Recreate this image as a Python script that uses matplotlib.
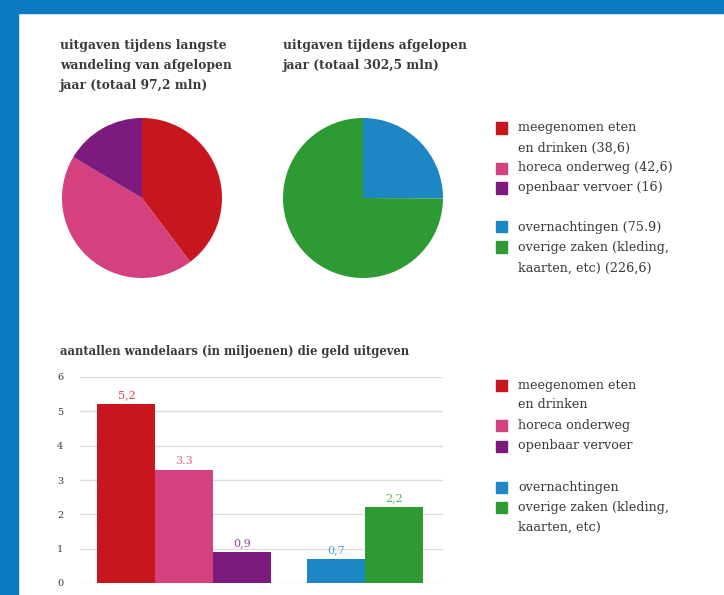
import matplotlib.pyplot as plt
from matplotlib.patches import Rectangle

W, H = 724, 595

# data
pie1_labels = ['meegenomen eten\nen drinken (38,6)', 'horeca onderweg (42,6)', 'openbaar vervoer (16)']
pie1_values = [38.6, 42.6, 16]
pie2_labels = ['overnachtingen (75.9)', 'overige zaken (kleding,\nkaarten, etc) (226,6)']
pie2_values = [75.9, 226.6]

bar_labels = ['meegenomen eten\nen drinken', 'horeca onderweg', 'openbaar vervoer',
              'overnachtingen', 'overige zaken (kleding,\nkaarten, etc)']
bar_values = [5.2, 3.3, 0.9, 0.7, 2.2]
bar_texts = ['5,2', '3.3', '0,9', '0,7', '2,2']
bar_pos = [0, 1, 2, 3.62, 4.62]

colors = ['#C8161E', '#D5407E', '#7D1A7D', '#1D87C6', '#2E9A34']
text_col = '#3a3a3a'
serif = ['DejaVu Serif']


def px(left, top, w, h):
    # pixel rect (from top-left) to figure fraction
    return [left / W, 1 - (top + h) / H, w / W, h / H]


def ftext(x, y, s, **kw):
    fig.text(x / W, 1 - y / H, s, family=serif, color=text_col, va='center', **kw)


fig = plt.figure(figsize=(W / 100, H / 100), dpi=100)

# blue frame
fig.patches.append(Rectangle((0, 1 - 13 / H), 1, 13 / H, transform=fig.transFigure, color='#0A7BC2', zorder=0))
fig.patches.append(Rectangle((0, 0), 18 / W, 1, transform=fig.transFigure, color='#0A7BC2', zorder=0))

# titles of the pies
ftext(60, 45, 'uitgaven tijdens langste', fontsize=8.8, weight='bold')
ftext(60, 65, 'wandeling van afgelopen', fontsize=8.8, weight='bold')
ftext(60, 86, 'jaar (totaal 97,2 mln)', fontsize=8.8, weight='bold')
ftext(283, 45, 'uitgaven tijdens afgelopen', fontsize=8.8, weight='bold')
ftext(283, 65, 'jaar (totaal 302,5 mln)', fontsize=8.8, weight='bold')

# pies
ax1 = fig.add_axes(px(62, 118, 160, 160))
ax1.pie(pie1_values, colors=colors[:3], startangle=90, counterclock=False, radius=1)
ax1.set_xlim(-1, 1)
ax1.set_ylim(-1, 1)
ax1.axis('off')

ax2 = fig.add_axes(px(283, 118, 160, 160))
ax2.pie(pie2_values, colors=colors[3:], startangle=90, counterclock=False, radius=1)
ax2.set_xlim(-1, 1)
ax2.set_ylim(-1, 1)
ax2.axis('off')


def legend(rows, labels, cols):
    i = 0
    for lab, c in zip(labels, cols):
        lines = lab.split('\n')
        y = rows[i]
        fig.patches.append(Rectangle((496 / W, 1 - (y + 5.5) / H), 11 / W, 11 / H,
                                     transform=fig.transFigure, color=c))
        for ln in lines:
            ftext(518, rows[i], ln, fontsize=9.2)
            i += 1


legend([128, 148, 168, 188], pie1_labels, colors[:3])
legend([227, 247, 268], pie2_labels, colors[3:])

# bar chart
ftext(60, 352, 'aantallen wandelaars (in miljoenen) die geld uitgeven', fontsize=8.3, weight='bold')

ax3 = fig.add_axes(px(80, 377, 363, 206))
ax3.bar(bar_pos, bar_values, width=1.0, color=colors, zorder=2)
for x, v, t, c in zip(bar_pos, bar_values, bar_texts, colors):
    ax3.text(x, v + 0.12, t, ha='center', va='bottom', color=c, family=serif, fontsize=8, alpha=0.8)
ax3.set_ylim(0, 6)
ax3.set_xlim(-0.8, 5.46)
ax3.set_yticks(range(7))
ax3.grid(axis='y', color='#dddddd', linewidth=1, zorder=0)
for s in ax3.spines.values():
    s.set_visible(False)
ax3.set_xticks([])
ax3.tick_params(axis='y', length=0, pad=12, labelsize=7, labelcolor=text_col)
for lb in ax3.get_yticklabels():
    lb.set_family(serif)

legend([385, 405, 425, 446], bar_labels[:3], colors[:3])
legend([487, 507, 527], bar_labels[3:], colors[3:])

fig.savefig('out.png', dpi=100)
